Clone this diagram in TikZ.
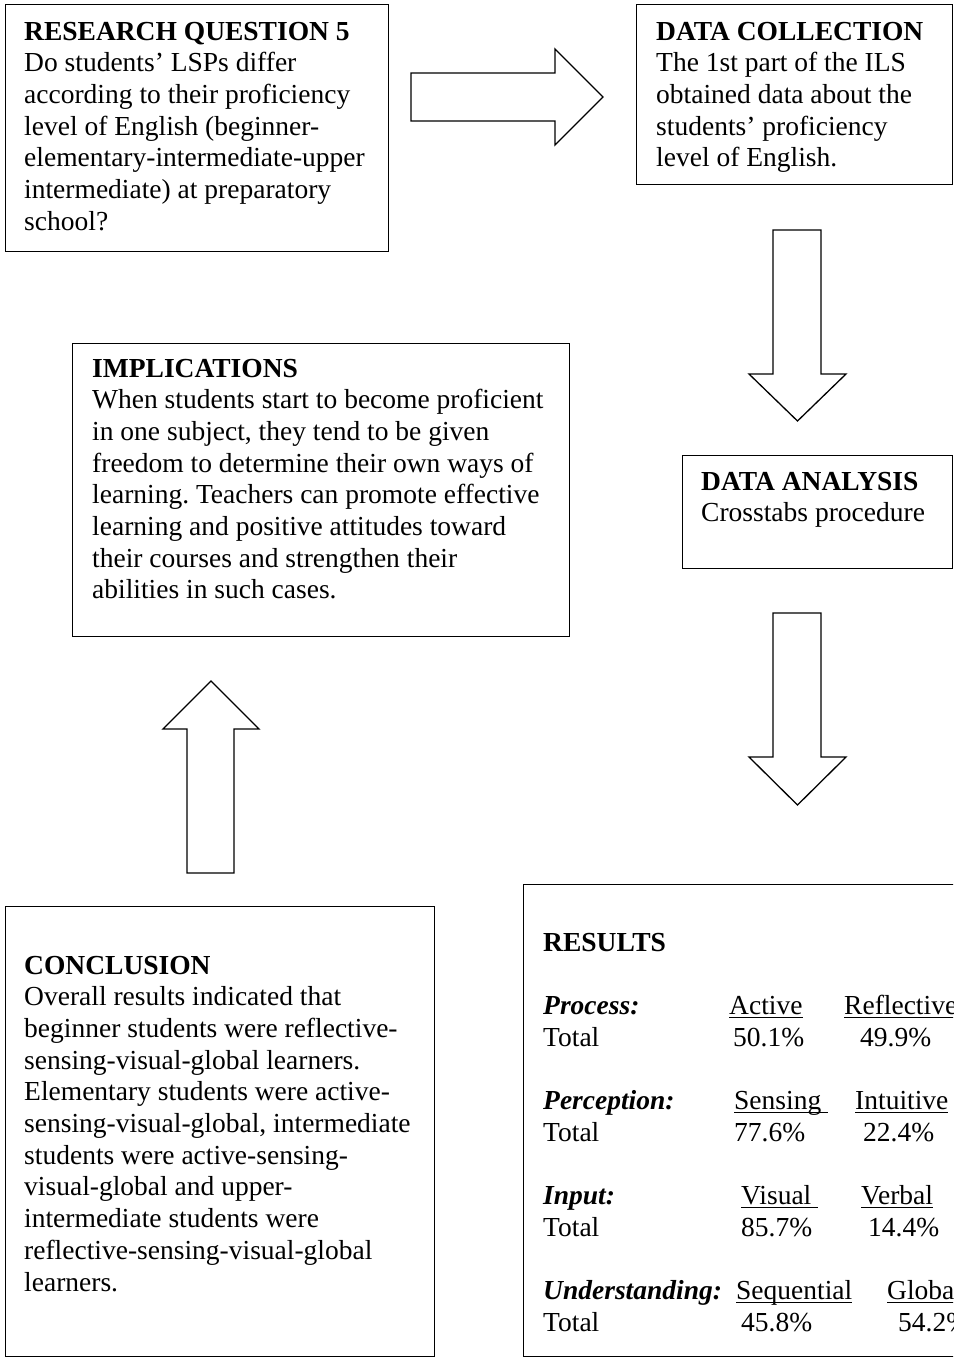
\documentclass[tikz,border=0pt]{standalone}
\usepackage{fontspec}
\setmainfont{Liberation Serif}
\frenchspacing
\newcommand\blk[1]{\begin{tabular}[t]{@{}l@{}}#1\end{tabular}}
\newcommand\ulin[1]{\setbox0\hbox{#1}\rlap{\rule[-3.6pt]{\wd0}{1.2pt}}\box0}
\tikzset{
  box/.style={draw=black, line width=1.3pt, inner sep=0pt, anchor=north west},
  txt/.style={anchor=base west, inner sep=0pt, font=\fontsize{27.5}{31.7}\selectfont},
  blockarrow/.style={draw=black, line width=1.3pt, fill=white, line join=miter},
}
\begin{document}
\begin{tikzpicture}[x=1pt, y=-1pt]
\useasboundingbox (0,0) rectangle (953,1357);
\clip (0,0) rectangle (953,1357);
\fill[white] (0,0) rectangle (953,1357);

% boxes
\node[box, minimum width=383pt, minimum height=247pt] (rq) at (5,4) {};
\node[box, minimum width=316pt, minimum height=180pt] (dc) at (636,4) {};
\node[box, minimum width=497pt, minimum height=293pt] (imp) at (72,343) {};
\node[box, minimum width=270pt, minimum height=113pt] (da) at (682,455) {};
\node[box, minimum width=429pt, minimum height=450pt] (con) at (5,906) {};
\node[box, minimum width=447pt, minimum height=472pt] (res) at (523,884) {};

% block arrows
\draw[blockarrow] (411,73) -- (555,73) -- (555,49) -- (603,97) -- (555,145) -- (555,121) -- (411,121) -- cycle;
\draw[blockarrow] (773,230) -- (821,230) -- (821,374) -- (846,374) -- (797.5,421) -- (749,374) -- (773,374) -- cycle;
\draw[blockarrow] (773,613) -- (821,613) -- (821,757) -- (846,757) -- (797.5,805) -- (749,757) -- (773,757) -- cycle;
\draw[blockarrow] (187,873) -- (234,873) -- (234,729) -- (259,729) -- (211,681) -- (163,729) -- (187,729) -- cycle;

% texts
\node[txt] (rqt) at (24,40) {\blk{\textbf{RESEARCH QUESTION 5}\\
Do students’ LSPs differ\\
according to their proficiency\\
level of English (beginner-\\
elementary-intermediate-upper\\
intermediate) at preparatory\\
school?}};

\node[txt] (dct) at (656,40) {\blk{\textbf{DATA COLLECTION}\\
The 1st part of the ILS\\
obtained data about the\\
students’ proficiency\\
level of English.}};

\node[txt] (impt) at (92,377) {\blk{\textbf{IMPLICATIONS}\\
When students start to become proficient\\
in one subject, they tend to be given\\
freedom to determine their own ways of\\
learning. Teachers can promote effective\\
learning and positive attitudes toward\\
their courses and strengthen their\\
abilities in such cases.}};

\node[txt] (dat) at (701,490) {\blk{\textbf{DATA ANALYSIS}\\
Crosstabs procedure}};

\node[txt] (cont) at (24,974) {\blk{\textbf{CONCLUSION}\\
Overall results indicated that\\
beginner students were reflective-\\
sensing-visual-global learners.\\
Elementary students were active-\\
sensing-visual-global, intermediate\\
students were active-sensing-\\
visual-global and upper-\\
intermediate students were\\
reflective-sensing-visual-global\\
learners.}};

\node[txt] (rest) at (543,951) {\blk{\textbf{RESULTS}\\ \\
\textbf{\textit{Process:}}\\ Total\\ \\
\textbf{\textit{Perception:}}\\ Total\\ \\
\textbf{\textit{Input:}}\\ Total\\ \\
\textbf{\textit{Understanding:}}\\ Total}};

\node[txt] (c11) at (729,1014.4) {\blk{\ulin{Active}\\\hspace{4pt}50.1\%}};
\node[txt] (c12) at (844,1014.4) {\blk{\ulin{Reflective}\\\hspace{16pt}49.9\%}};
\node[txt] (c21) at (734,1109.5) {\blk{\ulin{Sensing\ }\\77.6\%}};
\node[txt] (c22) at (855,1109.5) {\blk{\ulin{Intuitive}\\\hspace{8pt}22.4\%}};
\node[txt] (c31) at (741,1204.6) {\blk{\ulin{Visual\ }\\85.7\%}};
\node[txt] (c32) at (861,1204.6) {\blk{\ulin{Verbal}\\\hspace{7pt}14.4\%}};
\node[txt] (c41) at (736,1299.7) {\blk{\ulin{Sequential}\\\hspace{5pt}45.8\%}};
\node[txt] (c42) at (887,1299.7) {\blk{\ulin{Global}\\\hspace{11pt}54.2\%}};
\end{tikzpicture}
\end{document}
